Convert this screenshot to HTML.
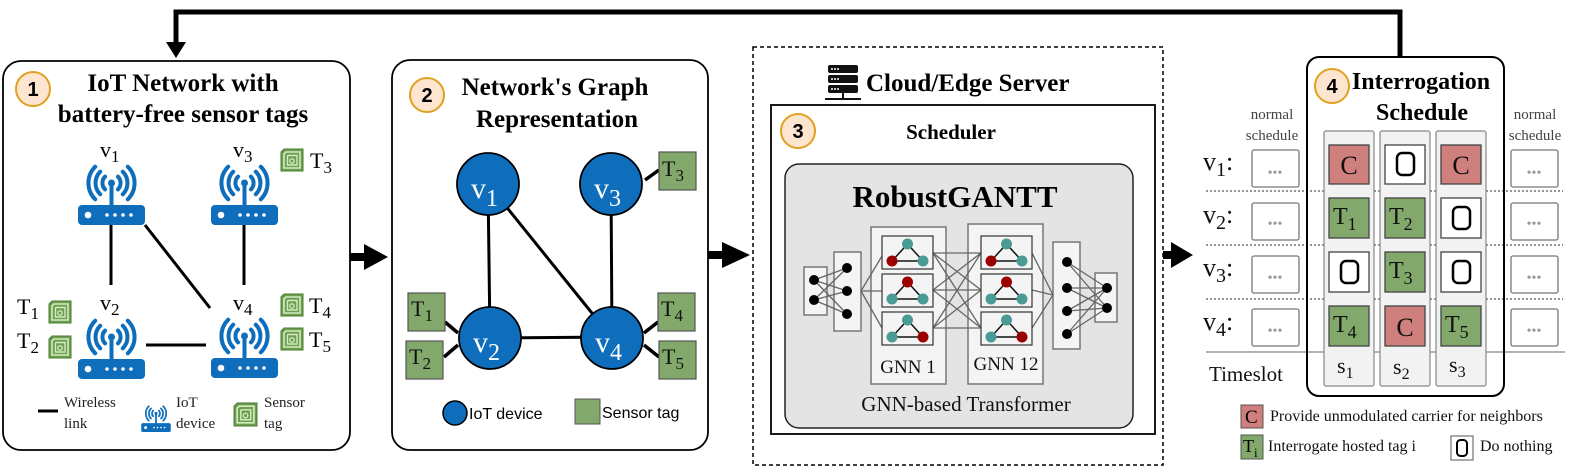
<!DOCTYPE html>
<html><head><meta charset="utf-8"><style>
body{margin:0;background:#fff}
svg{display:block}
.s{font-family:"Liberation Serif",serif}
.ss{font-family:"Liberation Sans",sans-serif}
</style></head><body>
<svg width="1578" height="473" viewBox="0 0 1578 473" xmlns="http://www.w3.org/2000/svg">
<defs>
<symbol id="rt" viewBox="0 0 67 77" overflow="visible">
<g fill="none" stroke="#0e6ebc" stroke-width="4" stroke-linecap="round">
<path d="M27.1 28.6 A9 9 0 0 0 27.1 41.4"/><path d="M22.2 23.7 A16 16 0 0 0 22.2 46.3"/><path d="M17.2 18.7 A23 23 0 0 0 17.2 51.3"/>
<path d="M39.9 28.6 A9 9 0 0 1 39.9 41.4"/><path d="M44.8 23.7 A16 16 0 0 1 44.8 46.3"/><path d="M49.8 18.7 A23 23 0 0 1 49.8 51.3"/>
</g>
<circle cx="33.5" cy="35" r="3.5" fill="#0e6ebc"/>
<rect x="31.5" y="35" width="4" height="24" fill="#0e6ebc"/>
<rect x="0" y="57" width="67" height="20" rx="4" fill="#0e6ebc"/>
<circle cx="10" cy="67" r="3.3" fill="#fff"/>
<g fill="#fff"><circle cx="29" cy="67" r="1.8"/><circle cx="37" cy="67" r="1.8"/><circle cx="45" cy="67" r="1.8"/><circle cx="53" cy="67" r="1.8"/></g>
</symbol>
<symbol id="tg" viewBox="0 0 24 24" overflow="visible">
<path d="M4 1 H23 V23 H1 V4 Z" fill="#6d9f4f" stroke="#4a7c32" stroke-width="1"/>
<path d="M6 4 H20 V20 H4 V6 Z" fill="none" stroke="#d4ebc4" stroke-width="1.6"/>
<path d="M8 7.5 H17 V17 H7.5 V8 Z" fill="none" stroke="#d4ebc4" stroke-width="1.4"/>
<circle cx="12" cy="13" r="2.2" fill="none" stroke="#d4ebc4" stroke-width="1.3"/>
</symbol>
<symbol id="tri" viewBox="0 0 51 33" overflow="visible">
<path d="M25.5 8 L10 25 L41 25 Z" fill="none" stroke="#111" stroke-width="1.5"/>
</symbol>
</defs>

<!-- feedback arrow -->
<path d="M1400 58 V12 H176 V45" fill="none" stroke="#000" stroke-width="5"/>
<path d="M166 42 L186 42 L176 58 Z" fill="#000"/>

<!-- Panel 1 -->
<rect x="3" y="61" width="347" height="389" rx="18" fill="#fff" stroke="#000" stroke-width="1.8"/>
<circle cx="33" cy="89" r="17" fill="#fde5d0" stroke="#e0a020" stroke-width="2"/>
<text x="33" y="96" text-anchor="middle" class="ss" font-weight="bold" font-size="20">1</text>
<text x="183" y="91" text-anchor="middle" class="s" font-weight="bold" font-size="25">IoT Network with</text>
<text x="183" y="122" text-anchor="middle" class="s" font-weight="bold" font-size="25">battery-free sensor tags</text>
<g stroke="#000" stroke-width="3">
<line x1="111" y1="225" x2="111" y2="285"/><line x1="244" y1="225" x2="244" y2="285"/>
<line x1="145" y1="225" x2="210" y2="308"/><line x1="146" y1="345" x2="206" y2="345"/>
</g>
<use href="#rt" x="78" y="148" width="67" height="77"/>
<use href="#rt" x="211" y="148" width="67" height="77"/>
<use href="#rt" x="78" y="302" width="67" height="77"/>
<use href="#rt" x="211" y="301" width="67" height="77"/>
<g class="s" font-size="22">
<text x="100" y="157">v<tspan font-size="17" dy="5">1</tspan></text>
<text x="233" y="157">v<tspan font-size="17" dy="5">3</tspan></text>
<text x="100" y="310">v<tspan font-size="17" dy="5">2</tspan></text>
<text x="233" y="310">v<tspan font-size="17" dy="5">4</tspan></text>
<text x="310" y="168">T<tspan font-size="17" dy="5">3</tspan></text>
<text x="17" y="314">T<tspan font-size="17" dy="5">1</tspan></text>
<text x="17" y="348">T<tspan font-size="17" dy="5">2</tspan></text>
<text x="309" y="313">T<tspan font-size="17" dy="5">4</tspan></text>
<text x="309" y="347">T<tspan font-size="17" dy="5">5</tspan></text>
</g>
<use href="#tg" x="280" y="148" width="24" height="24"/>
<use href="#tg" x="48" y="300" width="24" height="24"/>
<use href="#tg" x="48" y="335" width="24" height="24"/>
<use href="#tg" x="280" y="293" width="24" height="24"/>
<use href="#tg" x="280" y="327" width="24" height="24"/>
<line x1="38" y1="411" x2="58" y2="411" stroke="#000" stroke-width="3"/>
<use href="#rt" x="141" y="398" width="30" height="34"/>
<use href="#tg" x="233" y="402" width="25" height="25"/>
<g class="s" font-size="15" fill="#222">
<text x="64" y="407">Wireless</text><text x="64" y="428">link</text>
<text x="176" y="407">IoT</text><text x="176" y="428">device</text>
<text x="264" y="407">Sensor</text><text x="264" y="428">tag</text>
</g>

<!-- arrow 1->2 -->
<rect x="350" y="253" width="16" height="8" fill="#000"/>
<path d="M364 244 L388 257 L364 270 Z" fill="#000"/>

<!-- Panel 2 -->
<rect x="392" y="60" width="316" height="390" rx="18" fill="#fff" stroke="#000" stroke-width="1.8"/>
<circle cx="427" cy="95" r="17" fill="#fde5d0" stroke="#e0a020" stroke-width="2"/>
<text x="427" y="102" text-anchor="middle" class="ss" font-weight="bold" font-size="20">2</text>
<text x="555" y="95" text-anchor="middle" class="s" font-weight="bold" font-size="25">Network's Graph</text>
<text x="557" y="127" text-anchor="middle" class="s" font-weight="bold" font-size="25">Representation</text>
<g stroke="#000" stroke-width="3">
<line x1="488" y1="184" x2="490" y2="338"/><line x1="611" y1="184" x2="612" y2="338"/>
<line x1="488" y1="184" x2="612" y2="338"/><line x1="490" y1="338" x2="612" y2="337"/>
</g>
<g stroke="#000" stroke-width="3.5">
<line x1="659" y1="170" x2="645" y2="180"/>
<line x1="445" y1="322" x2="458" y2="333"/>
<line x1="444" y1="357" x2="458" y2="345"/>
<line x1="658" y1="322" x2="644" y2="333"/>
<line x1="659" y1="357" x2="644" y2="345"/>
</g>
<g fill="#0e6ebc" stroke="#000" stroke-width="1.8">
<circle cx="488" cy="184" r="31"/><circle cx="611" cy="184" r="31"/>
<circle cx="490" cy="338" r="31"/><circle cx="612" cy="338" r="31"/>
</g>
<g class="s" font-size="30" fill="#fff">
<text x="471" y="198">v<tspan font-size="24" dy="8">1</tspan></text>
<text x="594" y="198">v<tspan font-size="24" dy="8">3</tspan></text>
<text x="473" y="352">v<tspan font-size="24" dy="8">2</tspan></text>
<text x="595" y="352">v<tspan font-size="24" dy="8">4</tspan></text>
</g>
<g fill="#82a86c" stroke="#555" stroke-width="1.2">
<rect x="659" y="152" width="37" height="38"/><rect x="408" y="293" width="37" height="38"/>
<rect x="406" y="341" width="37" height="38"/><rect x="658" y="293" width="37" height="38"/>
<rect x="659" y="341" width="37" height="38"/>
</g>
<g class="s" font-size="22" fill="#111">
<text x="662" y="176">T<tspan font-size="17" dy="5">3</tspan></text>
<text x="411" y="316">T<tspan font-size="17" dy="5">1</tspan></text>
<text x="409" y="364">T<tspan font-size="17" dy="5">2</tspan></text>
<text x="661" y="316">T<tspan font-size="17" dy="5">4</tspan></text>
<text x="662" y="364">T<tspan font-size="17" dy="5">5</tspan></text>
</g>
<circle cx="455" cy="413" r="12" fill="#0e6ebc" stroke="#000" stroke-width="1.5"/>
<text x="469" y="419" class="ss" font-size="16">IoT device</text>
<rect x="575" y="399" width="25" height="25" fill="#82a86c" stroke="#555" stroke-width="1"/>
<text x="602" y="418" class="ss" font-size="16">Sensor tag</text>

<!-- arrow 2->3 -->
<rect x="708" y="251" width="16" height="8" fill="#000"/>
<path d="M722 242 L750 255 L722 268 Z" fill="#000"/>

<!-- Panel 3 -->
<rect x="753" y="47" width="410" height="418" fill="none" stroke="#000" stroke-width="1.5" stroke-dasharray="4,3"/>
<g fill="#111">
<rect x="828" y="65" width="30" height="8" rx="2"/><rect x="828" y="75" width="30" height="8" rx="2"/><rect x="828" y="85" width="30" height="8" rx="2"/>
<rect x="842" y="93" width="2" height="5"/><rect x="825" y="98" width="36" height="2"/>
</g>
<g fill="#fff"><circle cx="832" cy="69" r="1"/><circle cx="835" cy="69" r="1"/><circle cx="838" cy="69" r="1"/>
<circle cx="832" cy="79" r="1"/><circle cx="835" cy="79" r="1"/><circle cx="838" cy="79" r="1"/>
<circle cx="832" cy="89" r="1"/><circle cx="835" cy="89" r="1"/><circle cx="838" cy="89" r="1"/></g>
<text x="866" y="91" class="s" font-weight="bold" font-size="25">Cloud/Edge Server</text>
<rect x="771" y="105" width="384" height="329" fill="#fff" stroke="#000" stroke-width="1.8"/>
<circle cx="798" cy="131" r="17" fill="#fde5d0" stroke="#e0a020" stroke-width="2"/>
<text x="798" y="138" text-anchor="middle" class="ss" font-weight="bold" font-size="20">3</text>
<text x="951" y="139" text-anchor="middle" class="s" font-weight="bold" font-size="21">Scheduler</text>
<rect x="785" y="164" width="348" height="264" rx="14" fill="#e4e4e4" stroke="#222" stroke-width="1.5"/>
<text x="955" y="207" text-anchor="middle" class="s" font-weight="bold" font-size="31">RobustGANTT</text>
<g fill="#f4f4f4" stroke="#777" stroke-width="1.5">
<rect x="804" y="267" width="23" height="48"/><rect x="834" y="252" width="27" height="79"/>
<rect x="871" y="227" width="75" height="157"/><rect x="968" y="224" width="75" height="160"/>
<rect x="1053" y="242" width="27" height="107"/><rect x="1095" y="273" width="22" height="49"/>
</g>
<g stroke="#666" stroke-width="1.3">
<line x1="814" y1="280" x2="847" y2="268"/><line x1="814" y1="280" x2="847" y2="291"/><line x1="814" y1="280" x2="847" y2="314"/>
<line x1="814" y1="300" x2="847" y2="268"/><line x1="814" y1="300" x2="847" y2="291"/><line x1="814" y1="300" x2="847" y2="314"/>
<line x1="861" y1="291" x2="882" y2="256"/><line x1="861" y1="291" x2="882" y2="291"/><line x1="861" y1="291" x2="882" y2="328"/>
<line x1="933" y1="253" x2="981" y2="253"/><line x1="933" y1="253" x2="981" y2="290"/><line x1="933" y1="253" x2="981" y2="328"/>
<line x1="933" y1="290" x2="981" y2="253"/><line x1="933" y1="290" x2="981" y2="290"/><line x1="933" y1="290" x2="981" y2="328"/>
<line x1="933" y1="328" x2="981" y2="253"/><line x1="933" y1="328" x2="981" y2="290"/><line x1="933" y1="328" x2="981" y2="328"/>
<line x1="1032" y1="253" x2="1053" y2="295"/><line x1="1032" y1="290" x2="1053" y2="295"/><line x1="1032" y1="328" x2="1053" y2="295"/>
<line x1="1067" y1="262" x2="1107" y2="288"/><line x1="1067" y1="262" x2="1107" y2="308"/>
<line x1="1067" y1="288" x2="1107" y2="288"/><line x1="1067" y1="288" x2="1107" y2="308"/>
<line x1="1067" y1="311" x2="1107" y2="288"/><line x1="1067" y1="311" x2="1107" y2="308"/>
<line x1="1067" y1="334" x2="1107" y2="288"/><line x1="1067" y1="334" x2="1107" y2="308"/>
</g>
<g fill="#000">
<circle cx="814" cy="280" r="5"/><circle cx="814" cy="300" r="5"/>
<circle cx="847" cy="268" r="5"/><circle cx="847" cy="291" r="5"/><circle cx="847" cy="314" r="5"/>
<circle cx="1067" cy="262" r="5"/><circle cx="1067" cy="288" r="5"/><circle cx="1067" cy="311" r="5"/><circle cx="1067" cy="334" r="5"/>
<circle cx="1107" cy="288" r="5"/><circle cx="1107" cy="308" r="5"/>
</g>
<g fill="#f4f4f4" stroke="#333" stroke-width="1.2">
<rect x="882" y="236" width="51" height="33"/><rect x="882" y="274" width="51" height="33"/><rect x="882" y="312" width="51" height="33"/>
<rect x="981" y="236" width="51" height="33"/><rect x="981" y="274" width="51" height="33"/><rect x="981" y="312" width="51" height="33"/>
</g>
<g>
<use href="#tri" x="882" y="236" width="51" height="33"/><use href="#tri" x="882" y="274" width="51" height="33"/><use href="#tri" x="882" y="312" width="51" height="33"/>
<use href="#tri" x="981" y="236" width="51" height="33"/><use href="#tri" x="981" y="274" width="51" height="33"/><use href="#tri" x="981" y="312" width="51" height="33"/>
</g>
<g>
<circle cx="907.5" cy="244" r="5.5" fill="#4a9a96"/><circle cx="892" cy="261" r="5.5" fill="#9b0000"/><circle cx="923" cy="261" r="5.5" fill="#4a9a96"/>
<circle cx="907.5" cy="282" r="5.5" fill="#9b0000"/><circle cx="892" cy="299" r="5.5" fill="#4a9a96"/><circle cx="923" cy="299" r="5.5" fill="#4a9a96"/>
<circle cx="907.5" cy="320" r="5.5" fill="#4a9a96"/><circle cx="892" cy="337" r="5.5" fill="#4a9a96"/><circle cx="923" cy="337" r="5.5" fill="#9b0000"/>
<circle cx="1006.5" cy="244" r="5.5" fill="#4a9a96"/><circle cx="991" cy="261" r="5.5" fill="#9b0000"/><circle cx="1022" cy="261" r="5.5" fill="#4a9a96"/>
<circle cx="1006.5" cy="282" r="5.5" fill="#9b0000"/><circle cx="991" cy="299" r="5.5" fill="#4a9a96"/><circle cx="1022" cy="299" r="5.5" fill="#4a9a96"/>
<circle cx="1006.5" cy="320" r="5.5" fill="#4a9a96"/><circle cx="991" cy="337" r="5.5" fill="#4a9a96"/><circle cx="1022" cy="337" r="5.5" fill="#9b0000"/>
</g>
<g class="s" font-size="19" fill="#111" text-anchor="middle">
<text x="908" y="373">GNN 1</text><text x="1006" y="370">GNN 12</text>
</g>
<text x="966" y="411" text-anchor="middle" class="s" font-size="21" fill="#111">GNN-based Transformer</text>

<!-- arrow 3->4 -->
<rect x="1163" y="251" width="10" height="8" fill="#000"/>
<path d="M1171 242 L1193 255 L1171 268 Z" fill="#000"/>

<!-- Panel 4 -->
<g stroke="#555" stroke-width="1.2" stroke-dasharray="2,2">
<line x1="1206" y1="191" x2="1563" y2="191"/><line x1="1206" y1="245" x2="1563" y2="245"/><line x1="1206" y1="299" x2="1563" y2="299"/>
</g>
<line x1="1206" y1="352" x2="1565" y2="352" stroke="#888" stroke-width="1.2"/>
<rect x="1307" y="57" width="197" height="339" rx="12" fill="none" stroke="#000" stroke-width="2"/>
<circle cx="1332" cy="86" r="17" fill="#fde5d0" stroke="#e0a020" stroke-width="2"/>
<text x="1332" y="93" text-anchor="middle" class="ss" font-weight="bold" font-size="20">4</text>
<text x="1421" y="89" text-anchor="middle" class="s" font-weight="bold" font-size="24">Interrogation</text>
<text x="1422" y="120" text-anchor="middle" class="s" font-weight="bold" font-size="24">Schedule</text>
<g fill="#f2f2f2" stroke="#888" stroke-width="1.2">
<rect x="1324" y="131" width="50" height="255" rx="2"/><rect x="1380" y="131" width="50" height="255" rx="2"/><rect x="1436" y="131" width="50" height="255" rx="2"/>
</g>
<g stroke="#444" stroke-width="1.3">
<rect x="1329" y="145" width="40" height="39" fill="#cf807c"/><rect x="1385" y="145" width="40" height="39" fill="#fff"/><rect x="1441" y="145" width="40" height="39" fill="#cf807c"/>
<rect x="1329" y="198" width="40" height="40" fill="#82a86c"/><rect x="1385" y="198" width="40" height="40" fill="#82a86c"/><rect x="1441" y="198" width="40" height="40" fill="#fff"/>
<rect x="1329" y="252" width="40" height="40" fill="#fff"/><rect x="1385" y="252" width="40" height="40" fill="#82a86c"/><rect x="1441" y="252" width="40" height="40" fill="#fff"/>
<rect x="1329" y="306" width="40" height="40" fill="#82a86c"/><rect x="1385" y="306" width="40" height="40" fill="#cf807c"/><rect x="1441" y="306" width="40" height="40" fill="#82a86c"/>
</g>
<g fill="none" stroke="#000" stroke-width="2.5">
<rect x="1397" y="153" width="17" height="22" rx="5"/>
<rect x="1453" y="207" width="17" height="22" rx="5"/>
<rect x="1341" y="261" width="17" height="22" rx="5"/>
<rect x="1453" y="261" width="17" height="22" rx="5"/>
</g>
<g class="s" font-size="26" fill="#111" text-anchor="middle">
<text x="1349" y="174">C</text><text x="1461" y="174">C</text><text x="1405" y="336">C</text>
</g>
<g class="s" font-size="24" fill="#111">
<text x="1333" y="224">T<tspan font-size="18" dy="6">1</tspan></text>
<text x="1389" y="224">T<tspan font-size="18" dy="6">2</tspan></text>
<text x="1389" y="278">T<tspan font-size="18" dy="6">3</tspan></text>
<text x="1333" y="332">T<tspan font-size="18" dy="6">4</tspan></text>
<text x="1445" y="332">T<tspan font-size="18" dy="6">5</tspan></text>
</g>
<g fill="#fff" stroke="#777" stroke-width="1.3">
<rect x="1252" y="150" width="47" height="37" rx="2"/><rect x="1252" y="203" width="47" height="37" rx="2"/><rect x="1252" y="256" width="47" height="37" rx="2"/><rect x="1252" y="309" width="47" height="37" rx="2"/>
<rect x="1511" y="150" width="47" height="37" rx="2"/><rect x="1511" y="203" width="47" height="37" rx="2"/><rect x="1511" y="256" width="47" height="37" rx="2"/><rect x="1511" y="309" width="47" height="37" rx="2"/>
</g>
<g class="s" font-size="14" fill="#999" text-anchor="middle">
<text x="1275" y="177">•••</text><text x="1275" y="228">•••</text><text x="1275" y="282">•••</text><text x="1275" y="335">•••</text>
<text x="1534" y="177">•••</text><text x="1534" y="228">•••</text><text x="1534" y="282">•••</text><text x="1534" y="335">•••</text>
</g>
<g class="s" font-size="15" fill="#444" text-anchor="middle">
<text x="1272" y="119">normal</text><text x="1272" y="140">schedule</text>
<text x="1535" y="119">normal</text><text x="1535" y="140">schedule</text>
</g>
<g class="s" font-size="26" fill="#111">
<text x="1203" y="170">v<tspan font-size="20" dy="6">1</tspan><tspan dy="-6">:</tspan></text>
<text x="1203" y="223">v<tspan font-size="20" dy="6">2</tspan><tspan dy="-6">:</tspan></text>
<text x="1203" y="276">v<tspan font-size="20" dy="6">3</tspan><tspan dy="-6">:</tspan></text>
<text x="1203" y="330">v<tspan font-size="20" dy="6">4</tspan><tspan dy="-6">:</tspan></text>
</g>
<text x="1209" y="381" class="s" font-size="21" fill="#111">Timeslot</text>
<g class="s" font-size="22" fill="#111">
<text x="1337" y="373">s<tspan font-size="16" dy="5">1</tspan></text>
<text x="1393" y="374">s<tspan font-size="16" dy="5">2</tspan></text>
<text x="1449" y="372">s<tspan font-size="16" dy="5">3</tspan></text>
</g>
<rect x="1241" y="405" width="22" height="23" fill="#cf807c" stroke="#555"/>
<text x="1245" y="423" class="s" font-size="19">C</text>
<text x="1270" y="421" class="s" font-size="16" fill="#111">Provide unmodulated carrier for neighbors</text>
<rect x="1241" y="435" width="22" height="24" fill="#82a86c" stroke="#555"/>
<text x="1243" y="452" class="s" font-size="18">T<tspan font-size="13" dy="5">i</tspan></text>
<text x="1268" y="451" class="s" font-size="16" fill="#111">Interrogate hosted tag i</text>
<rect x="1451" y="436" width="22" height="24" fill="#fff" stroke="#555"/>
<rect x="1457" y="440" width="10" height="16" rx="3.5" fill="none" stroke="#000" stroke-width="2"/>
<text x="1480" y="451" class="s" font-size="16" fill="#111">Do nothing</text>
</svg>
</body></html>
